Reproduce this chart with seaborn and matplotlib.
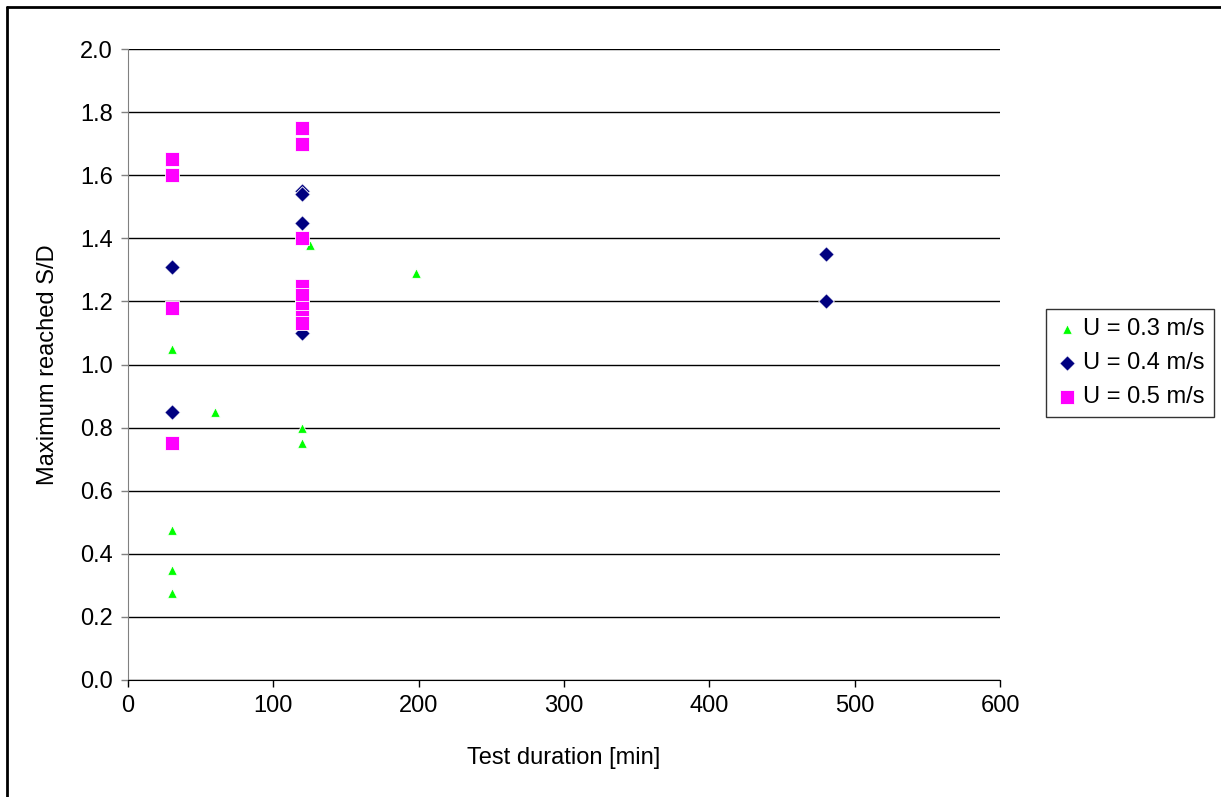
import matplotlib
matplotlib.use('Agg')
import matplotlib.pyplot as plt
import pandas as pd
import seaborn as sns
from matplotlib.lines import Line2D

# Data
dur_03 = [30, 30, 30, 30, 60, 120, 120, 125, 198]
sd_03 = [1.05, 0.475, 0.35, 0.275, 0.85, 0.80, 0.75, 1.38, 1.29]

dur_04 = [30, 30, 120, 120, 120, 120, 480, 480]
sd_04 = [1.31, 0.85, 1.55, 1.54, 1.45, 1.10, 1.35, 1.20]

dur_05 = [30, 30, 30, 30, 120, 120, 120, 120, 120, 120, 120, 120]
sd_05 = [1.65, 1.60, 1.18, 0.75, 1.75, 1.70, 1.40, 1.25, 1.22, 1.18, 1.15, 1.13]

labels = ['U = 0.3 m/s', 'U = 0.4 m/s', 'U = 0.5 m/s']
colors = ['#00ff00', '#000080', '#ff00ff']
markers = ['^', 'D', 's']
msizes = [48, 62, 112]

df = pd.concat([
    pd.DataFrame({'duration': dur_03, 'sd': sd_03, 'U': labels[0]}),
    pd.DataFrame({'duration': dur_04, 'sd': sd_04, 'U': labels[1]}),
    pd.DataFrame({'duration': dur_05, 'sd': sd_05, 'U': labels[2]}),
])

sns.set_style('white')
plt.rcParams['font.family'] = ['Liberation Sans', 'DejaVu Sans']
plt.rcParams['text.color'] = 'black'
plt.rcParams['axes.labelcolor'] = 'black'
plt.rcParams['xtick.color'] = 'black'
plt.rcParams['ytick.color'] = 'black'
fs = 17

fig = plt.figure(figsize=(12.21, 7.97), dpi=100)
ax = fig.add_axes([128 / 1221, 117 / 797, 872 / 1221, 631 / 797])

for lab, col, mk, ms in zip(labels, colors, markers, msizes):
    sub = df[df['U'] == lab]
    sns.scatterplot(data=sub, x='duration', y='sd', ax=ax, color=col, marker=mk,
                    s=ms, linewidth=0.6, edgecolor='white', label=lab, zorder=3,
                    clip_on=False)

ax.set_xlim(0, 600)
ax.set_ylim(0, 2.0)
ax.set_xticks(range(0, 601, 100))
ax.set_yticks([i / 10 for i in range(0, 21, 2)])
ax.set_yticklabels([f'{i / 10:.1f}' for i in range(0, 21, 2)])
ax.tick_params(axis='both', labelsize=fs, direction='out', length=5, width=1,
               pad=6, left=True, bottom=True, labelcolor='black')
ax.tick_params(axis='y', color='#808080')
ax.tick_params(axis='x', color='black')
ax.yaxis.grid(True, color='black', linewidth=1)
ax.set_axisbelow(True)
for s in ['top', 'right']:
    ax.spines[s].set_visible(False)
ax.spines['left'].set_color('#808080')
ax.spines['bottom'].set_color('black')
ax.set_xlabel('Test duration [min]', fontsize=fs)
ax.set_ylabel('Maximum reached S/D', fontsize=fs)
ax.xaxis.set_label_coords(0.5, -(758 - 680) / 631)
ax.xaxis.label.set_va('center')
ax.yaxis.set_label_coords(-(128 - 48) / 872, 0.5)
ax.yaxis.label.set_va('center')

leg = ax.legend(loc='center left', bbox_to_anchor=(1046 / 1221, 1 - 363 / 797),
                bbox_transform=fig.transFigure, frameon=True, fancybox=False,
                fontsize=fs, handletextpad=0.15, borderpad=0.4, labelspacing=0.5,
                handlelength=1.0, borderaxespad=0)
leg.get_frame().set_edgecolor('black')
leg.get_frame().set_linewidth(1)

# outer frame: only left and top edges are visible in the reference
fig.add_artist(Line2D([7 / 1221, 7 / 1221], [0, 1 - 7 / 797],
                      transform=fig.transFigure, color='black', linewidth=2))
fig.add_artist(Line2D([7 / 1221, 1], [1 - 7 / 797, 1 - 7 / 797],
                      transform=fig.transFigure, color='black', linewidth=2))

fig.savefig('out.png', dpi=100)
